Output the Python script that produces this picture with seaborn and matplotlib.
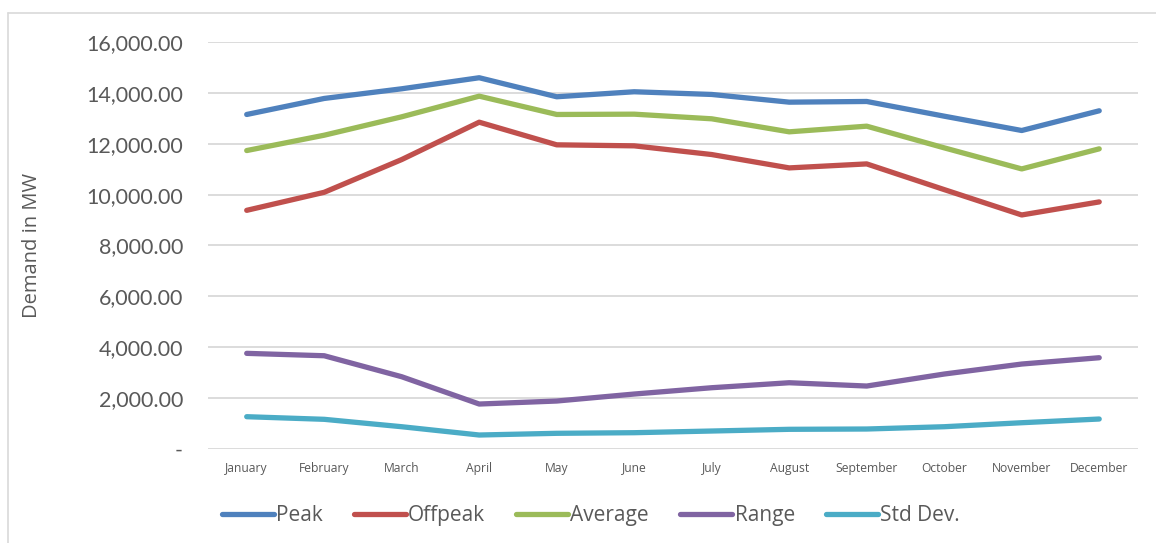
import numpy as np
import pandas as pd
import matplotlib
matplotlib.use("Agg")
import matplotlib.pyplot as plt
import matplotlib.ticker as mticker
from matplotlib.lines import Line2D
import seaborn as sns

months = ["January", "February", "March", "April", "May", "June", "July",
          "August", "September", "October", "November", "December"]
peak = [13150, 13780, 14160, 14594, 13846, 14043, 13937, 13634, 13661, 13083, 12520, 13295]
offpeak = [9382, 10091, 11378, 12847, 11957, 11917, 11575, 11050, 11207, 10197, 9200, 9713]
average = [11732, 12335, 13059, 13870, 13150, 13162, 12980, 12468, 12690, 11838, 11010, 11799]
value_range = [3760, 3666, 2841, 1768, 1886, 2161, 2409, 2605, 2475, 2947, 3340, 3588]
std_dev = [1270, 1167, 876, 550, 617, 641, 707, 774, 786, 876, 1033, 1179]

series_names = ["Peak", "Offpeak", "Average", "Range", "Std Dev."]
series_colors = ["#4F81BD", "#C0504D", "#9BBB59", "#8064A2", "#4BACC6"]
y_ticks = [0, 2000, 4000, 6000, 8000, 10000, 12000, 14000, 16000]

df = pd.DataFrame({
    "Month": months * 5,
    "pos": list(range(12)) * 5,
    "Series": sum([[n] * 12 for n in series_names], []),
    "Demand": peak + offpeak + average + value_range + std_dev,
})

sns.set_theme(style="white")
plt.rcParams["font.family"] = ["Open Sans", "DejaVu Sans"]

fig = plt.figure(figsize=(11.56, 5.43), dpi=100)
ax = fig.add_axes([0.1799, 0.1731, 0.8045, 0.7496])

sns.lineplot(data=df, x="pos", y="Demand", hue="Series", hue_order=series_names,
             palette=series_colors, linewidth=3.8, ax=ax, legend=False,
             solid_capstyle="round", solid_joinstyle="round", zorder=3)

ax.set_xlim(-0.5, 11.5)
ax.set_ylim(0, 16000)
ax.set_xticks(range(12))
ax.set_xticklabels(months, fontsize=8.7, color="#595959")
ax.set_yticks(y_ticks)
ax.yaxis.set_major_formatter(mticker.FuncFormatter(
    lambda v, p: "-" if v == 0 else f"{v:,.2f}"))
for lbl in ax.get_yticklabels():
    lbl.set_fontfamily(["Lato", "DejaVu Sans"])
    lbl.set_fontsize(15.5)
    lbl.set_color("#595959")
ax.tick_params(axis="y", length=0, pad=18)
ax.tick_params(axis="x", length=0, pad=9)
ax.grid(axis="y", color="#D9D9D9", linewidth=1.3, zorder=0)
ax.set_axisbelow(True)
for s in ax.spines.values():
    s.set_visible(False)
ax.set_xlabel("")
ax.set_ylabel("Demand in MW", fontsize=14.5, color="#595959")
ax.yaxis.set_label_coords(-0.178, 0.5)

handles = [Line2D([0], [0], color=c, linewidth=3.8, solid_capstyle="round")
           for c in series_colors]
fig.legend(handles, series_names, loc="center", bbox_to_anchor=(0.511, 0.051),
           ncol=5, frameon=False, fontsize=15, handlelength=2.5,
           handletextpad=0.1, columnspacing=1.5, labelcolor="#595959")

# chart area outline (top and left edges)
fig.add_artist(Line2D([8 / 1156, 1], [1 - 13 / 543, 1 - 13 / 543],
                      transform=fig.transFigure, color="#D9D9D9", linewidth=1.2))
fig.add_artist(Line2D([8 / 1156, 8 / 1156], [0, 1 - 13 / 543],
                      transform=fig.transFigure, color="#D9D9D9", linewidth=1.2))

fig.savefig("out.png", dpi=100)
